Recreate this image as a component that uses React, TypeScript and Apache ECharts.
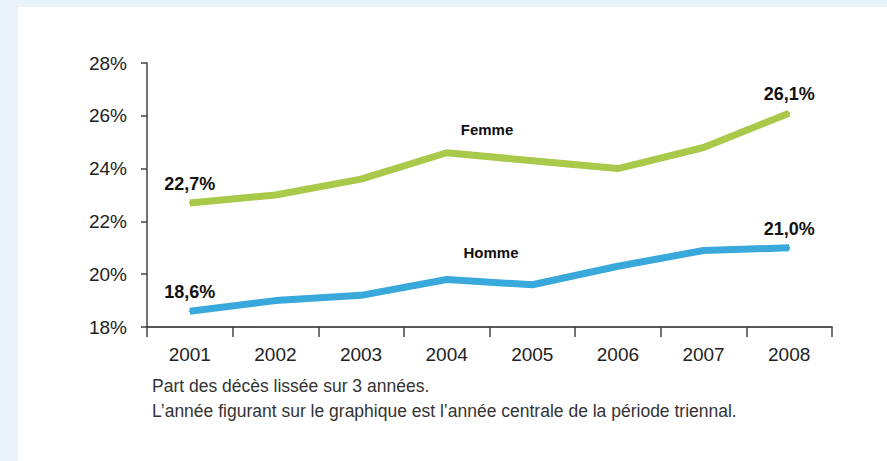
import React, { useEffect, useRef } from "react";
import * as echarts from "echarts";

const years = ["2001", "2002", "2003", "2004", "2005", "2006", "2007", "2008"];
const femme = [22.7, 23.0, 23.6, 24.6, 24.3, 24.0, 24.8, 26.1];
const homme = [18.6, 19.0, 19.2, 19.8, 19.6, 20.3, 20.9, 21.0];
const labelledIdx = [0, 7];
const notes = [
  "Part des décès lissée sur 3 années.",
  "L’année figurant sur le graphique est l’année centrale de la période triennal.",
];

const FONT = "'Liberation Sans', Arial, sans-serif";
const fmt = (v: number) => v.toFixed(1).replace(".", ",") + "%";

export default function App() {
  const ref = useRef<HTMLDivElement>(null);
  useEffect(() => {
    document.body.style.margin = "0";
    const chart = echarts.init(ref.current!, null, { renderer: "svg" });
    const mk = (arr: number[]) =>
      arr.map((v, i) =>
        labelledIdx.includes(i)
          ? {
              value: v,
              label: {
                show: true,
                position: "top",
                distance: 9,
                formatter: fmt(v),
                fontFamily: FONT,
                fontWeight: "bold",
                fontSize: 18,
                color: "#111",
              },
            }
          : { value: v, label: { show: false } }
      );
    chart.setOption({
      animation: false,
      backgroundColor: "#e9f1f9",
      grid: { left: 147, right: 55, top: 63, bottom: 134 },
      xAxis: {
        type: "category",
        data: years,
        boundaryGap: true,
        axisLine: { lineStyle: { color: "#222", width: 1.5 } },
        axisTick: { show: true, length: 10, lineStyle: { color: "#444", width: 1.5 } },
        axisLabel: { margin: 18, fontSize: 19, color: "#222", fontFamily: FONT },
      },
      yAxis: {
        type: "value",
        min: 18,
        max: 28,
        interval: 2,
        axisLine: { show: true, lineStyle: { color: "#444", width: 1.5 } },
        axisTick: { show: true, length: 6, lineStyle: { color: "#444", width: 1.5 } },
        splitLine: { show: false },
        axisLabel: {
          margin: 20,
          fontSize: 19,
          color: "#222",
          fontFamily: FONT,
          formatter: (v: number) => v + "%",
        },
      },
      graphic: [
        {
          type: "rect",
          z: -10,
          shape: { x: 18, y: 7, width: 869, height: 454 },
          style: { fill: "#ffffff" },
        },
        {
          type: "text",
          x: 487,
          y: 129,
          style: {
            text: "Femme",
            fontFamily: FONT,
            fontWeight: "bold",
            fontSize: 15,
            fill: "#111",
            align: "center",
            verticalAlign: "middle",
          },
        },
        {
          type: "text",
          x: 491,
          y: 252,
          style: {
            text: "Homme",
            fontFamily: FONT,
            fontWeight: "bold",
            fontSize: 15,
            fill: "#111",
            align: "center",
            verticalAlign: "middle",
          },
        },
        ...notes.map((t, i) => ({
          type: "text",
          x: 152,
          y: 386 + i * 25,
          style: {
            text: t,
            fontFamily: FONT,
            fontSize: 17.5,
            fill: "#333",
            align: "left",
            verticalAlign: "middle",
          },
        })),
      ],
      series: [
        {
          name: "Femme",
          type: "line",
          data: mk(femme),
          symbol: "circle",
          symbolSize: 2,
          showSymbol: true,
          showAllSymbol: true,
          lineStyle: { color: "#a9c94b", width: 7 },
          itemStyle: { color: "#a9c94b" },
        },
        {
          name: "Homme",
          type: "line",
          data: mk(homme),
          symbol: "circle",
          symbolSize: 2,
          showSymbol: true,
          showAllSymbol: true,
          lineStyle: { color: "#39a9dc", width: 7 },
          itemStyle: { color: "#39a9dc" },
        },
      ],
    });
    return () => chart.dispose();
  }, []);
  return (
    <div
      ref={ref}
      style={{ position: "absolute", left: 0, top: 0, width: 887, height: 461 }}
    />
  );
}
